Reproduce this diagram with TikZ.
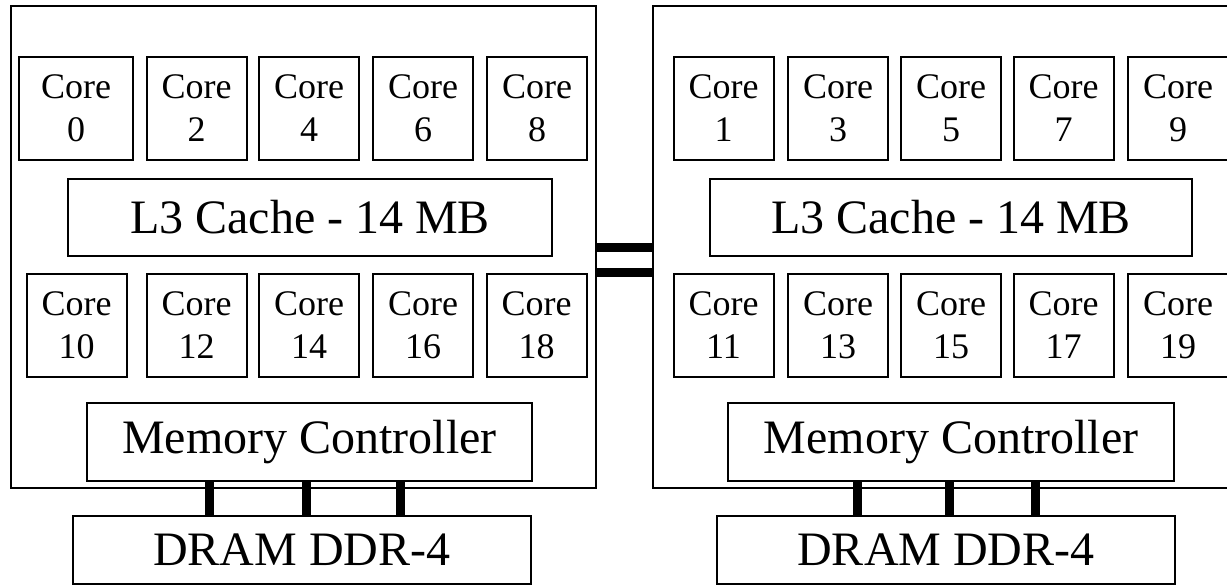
\documentclass[tikz,border=0pt]{standalone}
\usepackage{fontspec}
\setmainfont{Liberation Serif}
\tikzset{
  box/.style={draw,line width=1pt,inner sep=0pt,align=center},
  core/.style={box,minimum width=50pt,minimum height=51.5pt,font=\fontsize{18}{21.5}\selectfont},
  unit/.style={box,minimum height=39pt,font=\fontsize{24}{28}\selectfont},
  link/.style={line width=4.5pt}
}
\begin{document}
\begin{tikzpicture}[x=0.5pt,y=-0.5pt]
\useasboundingbox (0,0) rectangle (1227,585);
\clip (0,0) rectangle (1227,585);
% sockets
\node[box,minimum width=292.5pt,minimum height=241pt] (sockL) at (303.5,247) {};
\node[box,minimum width=292.5pt,minimum height=241pt] (sockR) at (945.5,247) {};
%
\node[core,minimum width=57pt] (c0) at (76,108) {Core\\0};
\foreach \x/\n in {196.5/2,309/4,423/6,537/8}{
\node[core] (c\n) at (\x,108) {Core\\\n};
}
\foreach \x/\n in {76.5/10,196.5/12,309/14,423/16,536.5/18}{
\node[core] (c\n) at (\x,325.5) {Core\\\n};
}
\foreach \x/\n in {723.5/1,838/3,951/5,1063.5/7,1178/9}{
\node[core] (c\n) at (\x,108) {Core\\\n};
}
\foreach \x/\n in {723.5/11,838/13,951/15,1063.5/17,1178/19}{
\node[core] (c\n) at (\x,325.5) {Core\\\n};
}
%
\node[unit,minimum width=242pt,minimum height=38.5pt] (l3L) at (310,217.5) {L3 Cache - 14 MB};
\node[unit,minimum width=241pt,minimum height=38.5pt] (l3R) at (951,217.5) {L3 Cache - 14 MB};
\node[unit,minimum width=222.5pt] (mcL) at (309.5,442) {Memory Controller};
\node[unit,minimum width=223pt] (mcR) at (951,442) {Memory Controller};
\node[unit,minimum width=229pt,minimum height=34pt] (dramL) at (302,550) {DRAM DDR-4};
\node[unit,minimum width=229pt,minimum height=34pt] (dramR) at (946,550) {DRAM DDR-4};
%
\draw[link] (sockL.east) -- (sockR.west);
\draw[link] ([yshift=-12.5pt]sockL.east) -- ([yshift=-12.5pt]sockR.west);
\foreach \x in {209,306,400}{
\draw[link] (mcL.south -| \x,0) -- (dramL.north -| \x,0);
}
\foreach \x in {857,949,1035}{
\draw[link] (mcR.south -| \x,0) -- (dramR.north -| \x,0);
}
\end{tikzpicture}
\end{document}
